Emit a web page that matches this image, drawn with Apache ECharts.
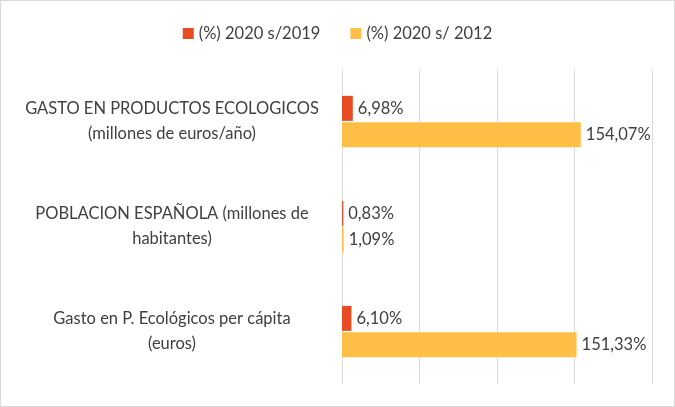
<!DOCTYPE html>
<html><head><meta charset="utf-8">
<script src="https://cdn.jsdelivr.net/npm/echarts@6/dist/echarts.min.js"></script>
<style>html,body{margin:0;padding:0;background:#fff}#c{width:675px;height:407px;box-sizing:border-box;border:1px solid #d9d9d9}</style>
</head><body><div id="c"></div>
<script>
var categories = ['GASTO EN PRODUCTOS ECOLOGICOS\n(millones de euros/año)', 'POBLACION ESPAÑOLA (millones de\nhabitantes)', 'Gasto en P. Ecológicos per cápita\n(euros)'];
var s2019 = [6.98, 0.83, 6.10];
var s2012 = [154.07, 1.09, 151.33];
var names = ['(%) 2020 s/2019', '(%) 2020 s/ 2012'];

var chart = echarts.init(document.getElementById('c'));
var lbl = {show: true, position: 'right', color: '#404040', fontSize: 16.5, fontFamily: 'Lato',
  formatter: function (p) { return p.value.toFixed(2).replace('.', ',') + '%'; }};
chart.setOption({
  textStyle: {fontFamily: 'Lato'},
  legend: {top: 19, left: 'center', itemWidth: 11, itemHeight: 11, itemGap: 30,
    icon: 'rect', textStyle: {fontSize: 16.5, color: '#404040'}, data: names},
  grid: {left: 341, right: 22, top: 68, bottom: 22, containLabel: false},
  xAxis: {type: 'value', min: 0, max: 200, interval: 50,
    axisLabel: {show: false}, axisLine: {show: false}, axisTick: {show: false},
    splitLine: {lineStyle: {color: '#d9d9d9'}}},
  yAxis: {type: 'category', inverse: true, data: categories,
    axisLine: {show: false}, axisTick: {show: false},
    axisLabel: {color: '#404040', fontSize: 16.5, align: 'center', margin: 170, lineHeight: 25}},
  series: [
    {name: names[0], type: 'bar', data: s2019, barWidth: 25, barGap: '5%',
     itemStyle: {color: '#E84C22'}, label: lbl},
    {name: names[1], type: 'bar', data: s2012, barWidth: 25,
     itemStyle: {color: '#FFBF47'}, label: lbl}
  ]
});
</script></body></html>
